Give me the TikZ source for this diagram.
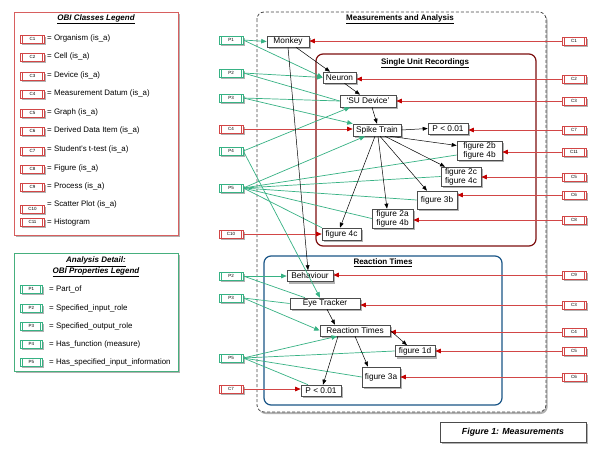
\documentclass[tikz,border=0pt]{standalone}
\usepackage{fontspec}
\setmainfont{Liberation Sans}
\usetikzlibrary{shadows,arrows.meta}
\definecolor{cgreen}{RGB}{55,178,132}
\definecolor{cred}{RGB}{210,70,70}
\definecolor{cdred}{RGB}{195,0,0}
\definecolor{boxred}{RGB}{125,15,15}
\definecolor{boxblue}{RGB}{25,85,135}
\definecolor{legred}{RGB}{215,95,95}
\definecolor{leggreen}{RGB}{70,175,125}
\tikzset{
  shd/.style={drop shadow={shadow xshift=1.6pt,shadow yshift=-2pt,opacity=0.5,fill=black!60}},
  nd/.style={draw=black!70, fill=white, line width=0.6pt, inner sep=1pt, shd,
    font=\fontsize{8.3}{9.3}\selectfont, align=left},
  tagbox/.style={draw=#1, fill=white, line width=0.6pt, minimum width=24pt,
    minimum height=8pt, inner sep=0pt, font=\fontsize{4.5}{4.5}\selectfont, shd,
    path picture={\draw[#1,line width=0.5pt]
      ([xshift=2.2pt]path picture bounding box.north west) -- ([xshift=2.2pt]path picture bounding box.south west)
      ([xshift=-2.2pt]path picture bounding box.north east) -- ([xshift=-2.2pt]path picture bounding box.south east);}},
  cbox/.style={tagbox=cred},
  pbox/.style={tagbox=cgreen},
  legtxt/.style={anchor=west, inner sep=0pt, font=\fontsize{7.9}{9}\selectfont},
  ttl/.style={inner sep=0pt, font=\fontsize{8}{9}\selectfont\bfseries},
  ra/.style={draw=cred, line width=0.7pt, -{Triangle[length=5.5pt,width=4.5pt,color=cdred]}},
  ga/.style={draw=cgreen, line width=0.7pt},
  gah/.style={ga, -{Triangle[length=5.5pt,width=4.5pt]}},
  ba/.style={draw=black, line width=0.5pt, -{Triangle[length=5pt,width=3.8pt]}},
}
\begin{document}
\begin{tikzpicture}[x=1pt,y=-1pt]
\useasboundingbox (0,0) rectangle (600,459);

% ---------- legends ----------
\draw[legred, line width=0.9pt, fill=white, shd] (14,12) rectangle (178,235);
\node[ttl, font=\fontsize{8}{9}\selectfont\bfseries\itshape] (lt1) at (96,19) {\underline{OBI Classes Legend}};
\foreach \i/\y in {1/39,2/57,3/76,4/94,5/113,6/131,7/151,8/169,9/187,10/209,11/222}
  \node[cbox] (lc\i) at (32.5,\y) {C\i};
\node[legtxt] (lx1) at (47,38) {= Organism (is\_a)};
\node[legtxt] (lx2) at (47,56) {= Cell (is\_a)};
\node[legtxt] (lx3) at (47,75) {= Device (is\_a)};
\node[legtxt] (lx4) at (47,93) {= Measurement Datum (is\_a)};
\node[legtxt] (lx5) at (47,112) {= Graph (is\_a)};
\node[legtxt] (lx6) at (47,130) {= Derived Data Item (is\_a)};
\node[legtxt] (lx7) at (47,149) {= Student's t-test (is\_a)};
\node[legtxt] (lx8) at (47,168) {= Figure (is\_a)};
\node[legtxt] (lx9) at (47,186) {= Process (is\_a)};
\node[legtxt] (lx10) at (47,204) {= Scatter Plot (is\_a)};
\node[legtxt] (lx11) at (47,222) {= Histogram};

\draw[leggreen, line width=0.9pt, fill=white, shd] (14,253) rectangle (178,371);
\node[ttl, align=center, font=\fontsize{8}{8.3}\selectfont\bfseries\itshape] (lt2) at (96,267)
  {\underline{Analysis Detail:}\\\underline{OBI Properties Legend}};
\foreach \i/\y in {1/289,2/308,3/326,4/344,5/362}
  \node[pbox, minimum width=22pt] (lp\i) at (31.5,\y) {P\i};
\node[legtxt] (ly1) at (49,289) {= Part\_of};
\node[legtxt] (ly2) at (49,308) {= Specified\_input\_role};
\node[legtxt] (ly3) at (49,326) {= Specified\_output\_role};
\node[legtxt] (ly4) at (49,344) {= Has\_function (measure)};
\node[legtxt] (ly5) at (49,362) {= Has\_specified\_input\_information};

% ---------- containers ----------
\draw[gray!55!black, line width=0.8pt, dash pattern=on 3pt off 2pt, rounded corners=7pt, fill=white, shd]
  (257,12) rectangle (546,412);
\node[ttl] (t0) at (400,19) {\underline{Measurements and Analysis}};
\draw[boxred, line width=1.2pt, rounded corners=7pt] (316,54) rectangle (536,246);
\node[ttl] (t1) at (425,63) {\underline{Single Unit Recordings}};
\draw[boxblue, line width=1.2pt, rounded corners=7pt] (264,256) rectangle (502,405);
\node[ttl] (t2) at (383,263) {\underline{Reaction Times}};

% ---------- main nodes ----------
\node[nd, minimum width=42pt, minimum height=11pt, align=center] (monkey) at (288,41.5) {Monkey};
\node[nd, minimum width=33pt, minimum height=11pt, align=center] (neuron) at (339.5,77.5) {Neuron};
\node[nd, minimum width=56pt, minimum height=12pt, align=center] (sudev) at (368,101) {`SU Device'};
\node[nd, minimum width=48pt, minimum height=12pt, align=center] (spike) at (377,130) {Spike Train};
\node[nd, minimum width=40pt, minimum height=11pt, align=center] (pA) at (448,128.5) {P < 0.01};
\node[nd, minimum width=45pt, minimum height=19pt] (f2b) at (479.5,150.5) {figure 2b\\figure 4b};
\node[nd, minimum width=40pt, minimum height=19pt] (f2c) at (461,176.5) {figure 2c\\figure 4c};
\node[nd, minimum width=40pt, minimum height=18pt] (f3b) at (437,200) {figure 3b};
\node[nd, minimum width=41pt, minimum height=19pt] (f2a) at (392.5,218.5) {figure 2a\\figure 4b};
\node[nd, minimum width=39pt, minimum height=12pt] (f4c) at (341.5,234) {figure 4c};

\node[nd, minimum width=46pt, minimum height=11pt, align=center] (behav) at (310,276) {Behaviour};
\node[nd, minimum width=70pt, minimum height=11pt, align=center] (eye) at (325,303.5) {Eye Tracker};
\node[nd, minimum width=70pt, minimum height=11pt, align=center] (rt) at (355,330.5) {Reaction Times};
\node[nd, minimum width=40pt, minimum height=11pt, align=center] (f1d) at (415,351) {figure 1d};
\node[nd, minimum width=38pt, minimum height=20pt, align=center] (f3a) at (381,377) {figure 3a};
\node[nd, minimum width=40pt, minimum height=11pt, align=center] (pB) at (321,390.5) {P < 0.01};

\node[nd, minimum width=146pt, minimum height=20pt, align=center,
  font=\fontsize{8.8}{10}\selectfont\bfseries\itshape] (cap) at (513,432) {Figure 1: Measurements};

% ---------- tag boxes ----------
\node[pbox] (p1) at (231,40) {P1};
\node[pbox] (p2a) at (231,73) {P2};
\node[pbox] (p3a) at (231,98) {P3};
\node[pbox] (p4) at (231,151) {P4};
\node[pbox] (p5a) at (231,188) {P5};
\node[pbox] (p2b) at (231,276) {P2};
\node[pbox] (p3b) at (231,298) {P3};
\node[pbox] (p5b) at (231,358) {P5};
\node[cbox] (c4l) at (231,129) {C4};
\node[cbox] (c10l) at (231,234) {C10};
\node[cbox] (c7l) at (231,389) {C7};

\node[cbox] (c1r) at (574,41) {C1};
\node[cbox] (c2r) at (574,79) {C2};
\node[cbox] (c3r) at (574,101) {C3};
\node[cbox] (c7r) at (574,130) {C7};
\node[cbox] (c11r) at (574,152) {C11};
\node[cbox] (c5r) at (574,177) {C5};
\node[cbox] (c6r) at (574,195) {C6};
\node[cbox] (c8r) at (574,220) {C8};
\node[cbox] (c9r) at (574,275) {C9};
\node[cbox] (c3rb) at (574,305) {C3};
\node[cbox] (c4r) at (574,332) {C4};
\node[cbox] (c5rb) at (574,351) {C5};
\node[cbox] (c6rb) at (574,377) {C6};

% ---------- red connectors ----------
\foreach \c/\n in {c1r/monkey,c2r/neuron,c3r/sudev,c7r/pA,c11r/f2b,c5r/f2c,c6r/f3b,c8r/f2a,
                   c9r/behav,c3rb/eye,c4r/rt,c5rb/f1d,c6rb/f3a}
  \draw[ra] (\c.west) -- (\c.west -| \n.east);
\foreach \c/\n in {c4l/spike,c10l/f4c,c7l/pB}
  \draw[ra] (\c.east) -- (\c.east -| \n.west);

% ---------- green connectors ----------
\draw[gah] (p1.east) -- (monkey.west);
\draw[gah] (p1.east) -- (neuron.west);
\draw[gah] (p2a.east) -- (neuron.west);
\draw[ga] (p2a.east) -- (sudev.west);
\draw[ga] (p3a.east) -- (sudev.west);
\draw[gah] (p3a.east) -- (spike.north west);
\draw[gah] (p4.east) -- ([xshift=-18pt]sudev.south);
\draw[gah] (p4.east) -- ([xshift=-5pt]eye.north);
\draw[gah] (p5a.east) -- ([xshift=-12pt]spike.south);
\draw[ga] (p5a.east) -- ([yshift=-4.5pt]f2b.west);
\draw[ga] (p5a.east) -- (f2c.west);
\draw[ga] (p5a.east) -- (f3b.west);
\draw[ga] (p5a.east) -- (f2a.west);
\draw[ga] (p5a.east) -- (f4c.north west);
\draw[gah] (p2b.east) -- (behav.west);
\draw[ga] (p2b.east) -- ([xshift=-20pt]eye.north);
\draw[ga] (p3b.east) -- (eye.west);
\draw[gah] (p3b.east) -- (rt.west);
\draw[gah] (p5b.east) -- ([xshift=-18pt]rt.south);
\draw[ga] (p5b.east) -- (f1d.west);
\draw[ga] (p5b.east) -- (f3a.west);
\draw[ga] (p5b.east) -- ([xshift=-13pt]pB.north);

% ---------- black connectors ----------
\draw[ba] ([xshift=8pt]monkey.south) -- ([xshift=-9.5pt]neuron.north);
\draw[ba] (monkey.south) -- ([xshift=-2pt]behav.north);
\draw[ba] ([xshift=5pt]neuron.south) -- ([xshift=-8pt]sudev.north);
\draw[ba] ([xshift=4pt]sudev.south) -- (spike.north);
\draw[ba] (spike.east) -- (pA.west);
\draw[ba] ([xshift=13pt]spike.south) -- ([yshift=5pt]f2b.west);
\draw[ba] ([xshift=8pt]spike.south) -- ([xshift=-16pt]f2c.north);
\draw[ba] ([xshift=3pt]spike.south) -- ([xshift=-10pt]f3b.north);
\draw[ba] ([xshift=1pt]spike.south) -- ([xshift=-5.5pt]f2a.north);
\draw[ba] ([xshift=-2pt]spike.south) -- ([xshift=-1.5pt]f4c.north);
\draw[ba] ([xshift=2pt]eye.south) -- ([xshift=-20pt]rt.north);
\draw[ba] (rt.east) -- ([xshift=-8pt]f1d.north);
\draw[ba] (rt.south) -- ([xshift=-13pt]f3a.north);
\draw[ba] ([xshift=-17pt]rt.south) -- ([xshift=2pt]pB.north);
\end{tikzpicture}
\end{document}
